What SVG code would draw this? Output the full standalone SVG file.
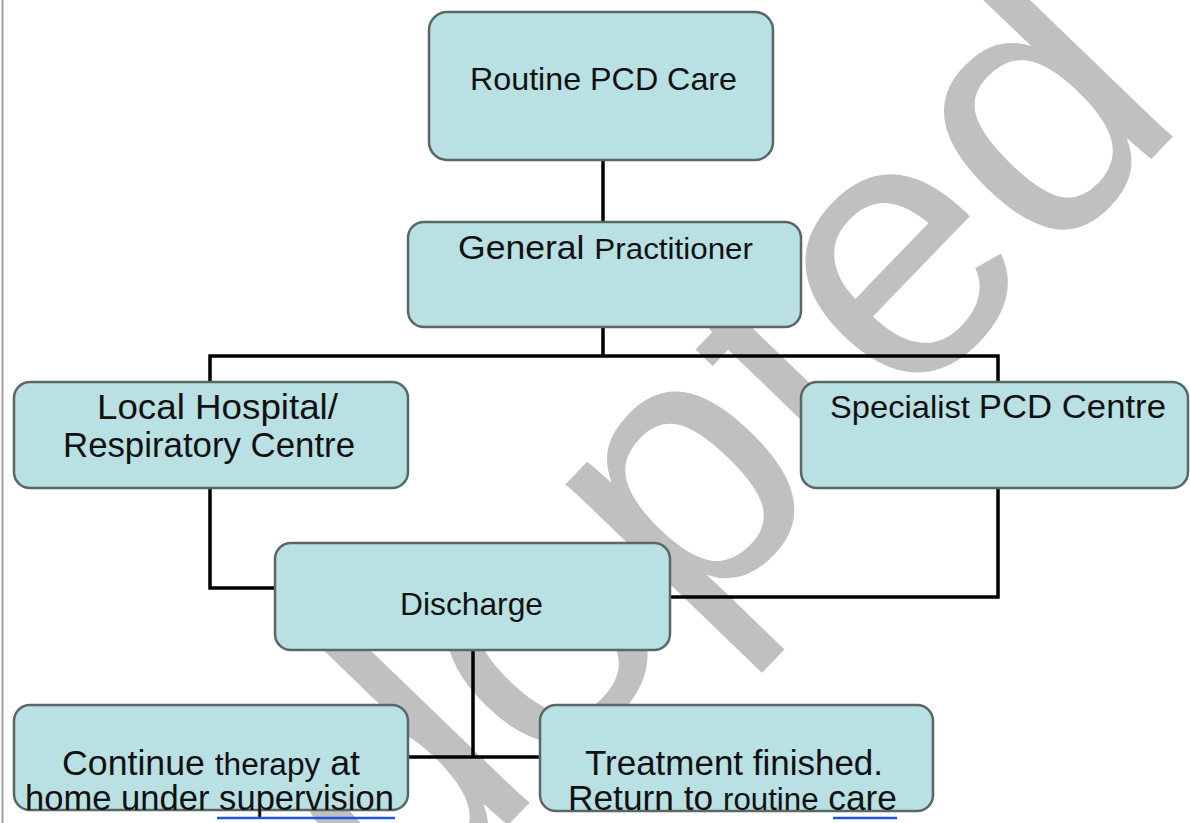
<svg xmlns="http://www.w3.org/2000/svg" width="1190" height="823" viewBox="0 0 1190 823">
<style>
.box{fill:#b9e0e3;stroke:#5b6666;stroke-width:2.5}
.lbl{font-family:"Liberation Sans",Arial,sans-serif;fill:#111}
.con{fill:none;stroke:#000;stroke-width:3.5;stroke-linejoin:miter}
.ul{stroke:#1f57d6;stroke-width:2.5}
</style>
<rect x="0" y="0" width="1190" height="823" fill="#ffffff"/>
<line x1="2.5" y1="0" x2="2.5" y2="823" stroke="#a0a0a0" stroke-width="2"/>
<text transform="translate(232 1111) rotate(-46)" font-family="Liberation Sans, Arial, sans-serif" font-size="370" fill="#c0c0c0">Adopted</text>
<g id="connectors">
<path class="con" d="M603,160 V222"/>
<path class="con" d="M603,328 V356 M210,383 V356 H998 V383"/>
<path class="con" d="M210,488 V588 H276"/>
<path class="con" d="M998,488 V597 H670"/>
<path class="con" d="M473,650 V757 M408,757 H540"/>
</g>
<g id="routine">
<rect class="box" x="429" y="12" width="344" height="148" rx="18"/>
<text class="lbl" x="470" y="90" font-size="32" textLength="267" lengthAdjust="spacingAndGlyphs">Routine PCD Care</text>
</g>
<g id="gp">
<rect class="box" x="408" y="222" width="393" height="105" rx="16"/>
<text class="lbl" x="458" y="259" font-size="34" textLength="295" lengthAdjust="spacingAndGlyphs">General <tspan font-size="30">Practitioner</tspan></text>
</g>
<g id="local">
<rect class="box" x="14" y="382" width="394" height="106" rx="16"/>
<text class="lbl" x="97" y="419" font-size="35" textLength="241" lengthAdjust="spacingAndGlyphs">Local Hospital/</text>
<text class="lbl" x="63" y="457" font-size="35" textLength="292" lengthAdjust="spacingAndGlyphs">Respiratory Centre</text>
</g>
<g id="specialist">
<rect class="box" x="801" y="382" width="387" height="106" rx="16"/>
<text class="lbl" x="830" y="418" font-size="32" textLength="336" lengthAdjust="spacingAndGlyphs">Specialist <tspan font-size="34">PCD Centre</tspan></text>
</g>
<g id="discharge">
<rect class="box" x="275" y="543" width="395" height="107" rx="16"/>
<text class="lbl" x="400" y="615" font-size="32" textLength="143" lengthAdjust="spacingAndGlyphs">Discharge</text>
</g>
<g id="continue">
<rect class="box" x="14" y="705" width="394" height="105" rx="16"/>
<text class="lbl" x="62" y="775" font-size="35" textLength="298" lengthAdjust="spacingAndGlyphs">Continue <tspan font-size="31">therapy</tspan> at</text>
<text class="lbl" x="25" y="810" font-size="35" textLength="369" lengthAdjust="spacingAndGlyphs">home under supervision</text>
<line class="ul" x1="217" y1="818" x2="395" y2="818"/>
</g>
<g id="finished">
<rect class="box" x="540" y="705" width="393" height="106" rx="16"/>
<text class="lbl" x="585" y="775" font-size="35" textLength="298" lengthAdjust="spacingAndGlyphs">Treatment finished.</text>
<text class="lbl" x="568" y="810" font-size="35" textLength="329" lengthAdjust="spacingAndGlyphs">Return to <tspan font-size="31">routine</tspan> care</text>
<line class="ul" x1="833" y1="818" x2="897" y2="818"/>
</g>
</svg>
